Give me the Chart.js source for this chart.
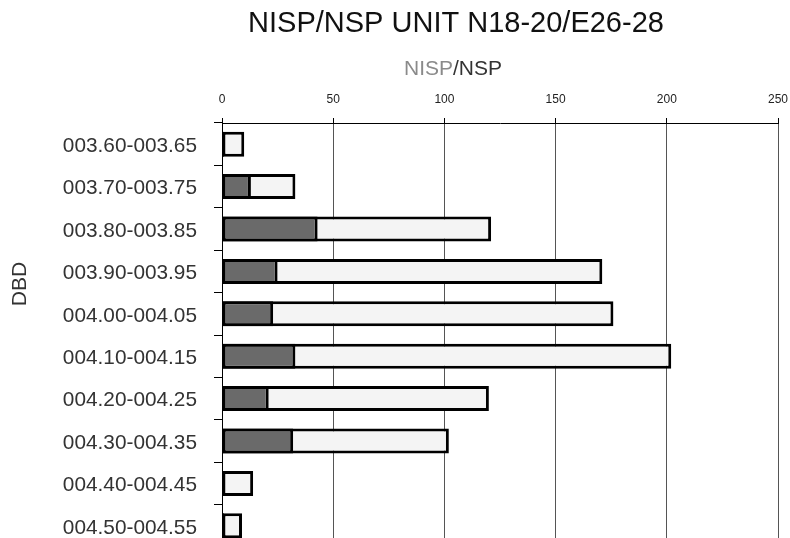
<!DOCTYPE html>
<html>
<head>
<meta charset="utf-8">
<script src="https://cdn.jsdelivr.net/npm/chart.js@4/dist/chart.umd.min.js"></script>
<style>
  html, body { margin: 0; padding: 0; background: #fff; overflow: hidden; }
  #wrap { width: 790px; height: 538px; overflow: hidden; position: relative; }
  canvas { display: block; }
</style>
</head>
<body>
<div id="wrap"><canvas id="c" width="790" height="560" style="width:790px;height:560px"></canvas></div>
<script>
// Depth intervals (DBD) and counts per interval
const depthBins = ['003.60-003.65', '003.70-003.75', '003.80-003.85', '003.90-003.95', '004.00-004.05',
                   '004.10-004.15', '004.20-004.25', '004.30-004.35', '004.40-004.45', '004.50-004.55'];
const nispCounts = [1, 13, 43, 25, 23, 33, 21, 32, 1, 1];
const nspCounts = [10, 33, 121, 171, 176, 202, 120, 102, 14, 9];
const axisTicks = [0, 50, 100, 150, 200, 250];

const chartTitle = 'NISP/NSP UNIT N18-20/E26-28';
const yTitle = 'DBD';

const FONT = '"Liberation Sans", Arial, sans-serif';

// Titles drawn by hand so the two-tone axis title can be coloured per word
const textPlugin = {
  id: 'texts',
  afterDraw(chart) {
    const ctx = chart.ctx;
    ctx.save();
    ctx.textBaseline = 'alphabetic';

    ctx.font = '29px ' + FONT;
    ctx.fillStyle = '#111';
    ctx.textAlign = 'center';
    ctx.fillText(chartTitle, 456, 32);

    ctx.font = '21px ' + FONT;
    const a = 'NISP', b = '/NSP';
    const wa = ctx.measureText(a).width, wb = ctx.measureText(b).width;
    const x0 = 453 - (wa + wb) / 2;
    ctx.textAlign = 'left';
    ctx.fillStyle = '#8a8a8a';
    ctx.fillText(a, x0, 75);
    ctx.fillStyle = '#333';
    ctx.fillText(b, x0 + wa, 75);

    ctx.translate(20, 284);
    ctx.rotate(-Math.PI / 2);
    ctx.textAlign = 'center';
    ctx.textBaseline = 'middle';
    ctx.font = '21px ' + FONT;
    ctx.fillStyle = '#333';
    ctx.fillText(yTitle, 0, 0);
    ctx.restore();
  }
};

new Chart(document.getElementById('c'), {
  type: 'bar',
  data: {
    labels: depthBins,
    datasets: [
      {
        label: 'NISP',
        data: nispCounts,
        backgroundColor: '#6a6a6a',
        borderColor: '#000',
        borderWidth: 3,
        borderSkipped: false,
        grouped: false,
        categoryPercentage: 1,
        barPercentage: 0.59
      },
      {
        label: 'NSP',
        data: nspCounts,
        backgroundColor: '#f4f4f4',
        borderColor: '#000',
        borderWidth: 3,
        borderSkipped: false,
        grouped: false,
        categoryPercentage: 1,
        barPercentage: 0.59
      }
    ]
  },
  options: {
    indexAxis: 'y',
    responsive: false,
    maintainAspectRatio: false,
    animation: false,
    devicePixelRatio: 1,
    layout: { padding: { left: 0, right: 12, top: 0, bottom: 13 } },
    plugins: {
      legend: { display: false },
      title: { display: false },
      tooltip: { enabled: false }
    },
    scales: {
      x: {
        position: 'top',
        min: 0,
        max: 250,
        afterBuildTicks(scale) { scale.ticks = axisTicks.map(v => ({ value: v })); },
        afterFit(scale) {
          scale.height = 123;
          scale.paddingLeft = 0;
          scale.paddingRight = 0;
        },
        ticks: {
          font: { family: FONT, size: 12 },
          color: '#222',
          padding: 11,
          maxRotation: 0
        },
        grid: {
          color: '#555',
          lineWidth: 1,
          tickLength: 5,
          tickColor: '#000'
        },
        border: { color: '#000', width: 1 }
      },
      y: {
        afterFit(scale) {
          scale.width = 222;
          scale.paddingTop = 0;
          scale.paddingBottom = 0;
        },
        ticks: {
          font: { family: FONT, size: 20.8 },
          color: '#333',
          padding: 17,
          labelOffset: 2
        },
        grid: {
          drawOnChartArea: false,
          offset: true,
          tickLength: 8,
          tickColor: '#000'
        },
        border: { color: '#000', width: 1 }
      }
    }
  },
  plugins: [textPlugin]
});
</script>
</body>
</html>
